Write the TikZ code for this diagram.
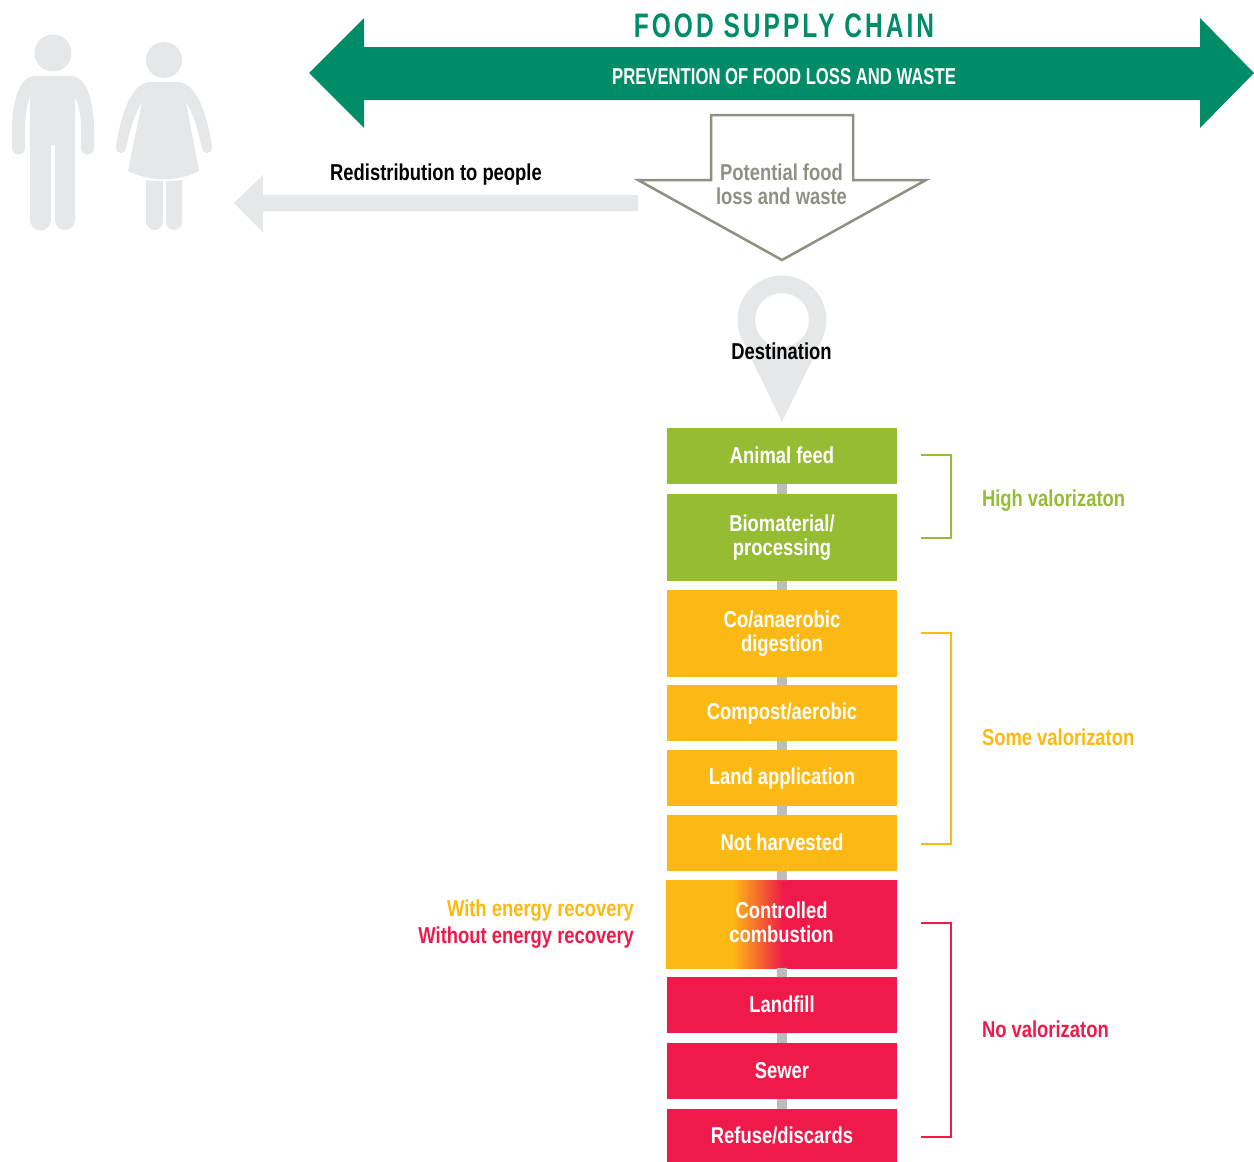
\documentclass[tikz,border=0pt]{standalone}
\usepackage{fontspec}
\setmainfont[FakeStretch=0.8]{Liberation Sans}
\newfontfamily\titlefont[FakeStretch=0.72,LetterSpace=9]{Liberation Sans}
\newfontfamily\capsfont[FakeStretch=0.725]{Liberation Sans}
\newcommand{\lblstrut}{\rule[-3pt]{0pt}{21pt}}
\definecolor{chaing}{RGB}{0,140,103}
\definecolor{highg}{RGB}{149,188,50}
\definecolor{someo}{RGB}{253,185,19}
\definecolor{nor}{RGB}{239,26,74}
\definecolor{palegr}{RGB}{230,231,232}
\definecolor{outlinegr}{RGB}{143,144,132}
\definecolor{spinegr}{RGB}{188,188,188}
\pgfdeclarehorizontalshading{combustshade}{100bp}{color(0bp)=(someo); color(39.5bp)=(someo); color(50.3bp)=(nor); color(100bp)=(nor)}
\tikzstyle{txtl}=[font=\fontsize{23}{24}\selectfont\bfseries,inner sep=0pt,outer sep=0pt,align=center,execute at begin node=\lblstrut,execute at end node=\lblstrut]
\tikzstyle{boxg}=[txtl,rectangle,fill=highg,text=white,minimum width=230pt]
\tikzstyle{boxo}=[boxg,fill=someo]
\tikzstyle{boxr}=[boxg,fill=nor]
\tikzstyle{spine}=[spinegr,line width=10pt]
\tikzstyle{bracket}=[line width=2.5pt]

\begin{document}
\begin{tikzpicture}[x=1pt,y=-1pt]
    \useasboundingbox (0,0) rectangle (1254,1162);

    % people
    \fill[palegr] (53,53) circle (18.5);
    \fill[palegr] (35,76) -- (71,76) .. controls (86,76) and (94,100) .. (94,130) -- (94,148)
        arc (0:180:6.5) -- (81,130) .. controls (81,115) and (79,105) .. (75,97) -- (75,220)
        arc (0:180:10) -- (55,145) -- (51,145) -- (51,220) arc (0:180:10.5) -- (30,97)
        .. controls (27,105) and (25,115) .. (25,130) -- (25,148) arc (0:180:6.5) -- (12,130)
        .. controls (12,100) and (20,76) .. (35,76) -- cycle;
    \fill[palegr] (164,60) circle (18);
    \fill[palegr] (150,82) -- (178,82) .. controls (196,82) and (208,115) .. (212,148)
        arc (0:180:5) .. controls (198,130) and (194,115) .. (186,102) -- (199,171)
        .. controls (178,182) and (150,182) .. (128,171) -- (142,102)
        .. controls (134,115) and (130,130) .. (126,148) arc (0:180:5)
        .. controls (120,115) and (132,82) .. (150,82) -- cycle;
    \fill[palegr] (146,180) .. controls (152,181) and (158,181) .. (163,181) -- (163,221.5)
        arc (0:180:8.5) -- cycle;
    \fill[palegr] (166,181) .. controls (171,181) and (177,181) .. (182,180) -- (182,222)
        arc (0:180:8) -- cycle;

    % top arrow
    \fill[chaing] (309,73) -- (364,18) -- (364,47) -- (1200,47) -- (1200,18) -- (1254,73)
        -- (1200,128) -- (1200,100) -- (364,100) -- (364,128) -- cycle;
    \node[inner sep=0pt,text=chaing,font=\fontsize{34}{36}\selectfont\titlefont\bfseries] (title) at (784,26) {FOOD SUPPLY CHAIN};
    \node[txtl,text=white,font=\fontsize{23}{24}\selectfont\capsfont\bfseries] (prevent) at (784,77) {PREVENTION OF FOOD LOSS AND WASTE};

    % redistribution
    \fill[palegr] (234,203) -- (263,175) -- (263,195) -- (638,195) -- (638,211) -- (263,211) -- (263,232) -- cycle;
    \node[txtl] (redist) at (436,174) {Redistribution to people};

    % potential loss
    \draw[outlinegr,line width=2.5pt] (711,180) -- (711,115) -- (853,115) -- (853,180) -- (926,180)
        -- (782,260) -- (638,180) -- cycle;
    \fill[white] (712.5,175) rectangle (851.5,182);
    \node[txtl,text=outlinegr] (potential) at (781.5,185.5) {Potential food\\loss and waste};

    % destination
    \fill[palegr,even odd rule] (782,422) -- (742,339.4) arc (154.1:385.9:44.5) -- cycle
        (782,320) circle (27);
    \node[txtl] (dest) at (781.5,352) {Destination};

    % boxes
    \node[boxg,minimum height=56pt] (feed) at (782,456) {Animal feed};
    \node[boxg,minimum height=87pt] (biomat) at (782,537.5) {Biomaterial/\\processing};
    \node[boxo,minimum height=87pt] (digest) at (782,633.5) {Co/anaerobic\\digestion};
    \node[boxo,minimum height=56pt] (compost) at (782,713) {Compost/aerobic};
    \node[boxo,minimum height=56pt] (land) at (782,778) {Land application};
    \node[boxo,minimum height=56pt] (notharv) at (782,843) {Not harvested};
    \node[boxr,minimum height=88pt,minimum width=231pt,shade,shading=combustshade] (combust) at (781.5,924) {Controlled\\combustion};
    \node[boxr,minimum height=56pt] (landfill) at (782,1005) {Landfill};
    \node[boxr,minimum height=56pt] (sewer) at (782,1071) {Sewer};
    \node[boxr,minimum height=53pt] (refuse) at (782,1135.5) {Refuse/discards};

    \foreach \from/\to in {feed/biomat,biomat/digest,digest/compost,compost/land,land/notharv,notharv/combust,combust/landfill,landfill/sewer,sewer/refuse}
    \draw[spine] (\from) -- (\to);

    % brackets
    \coordinate (hi1) at (921,455);
    \coordinate (hi2) at (921,538);
    \coordinate (so1) at (921,633);
    \coordinate (so2) at (921,844);
    \coordinate (no1) at (921,923);
    \coordinate (no2) at (921,1137);
    \draw[bracket,highg] (hi1) -- ++(30,0) |- (hi2);
    \draw[bracket,someo] (so1) -- ++(30,0) |- (so2);
    \draw[bracket,nor] (no1) -- ++(30,0) |- (no2);

    \node[txtl,text=highg,anchor=west] (high) at (982,500) {High valorizaton};
    \node[txtl,text=someo,anchor=west] (some) at (982,738) {Some valorizaton};
    \node[txtl,text=nor,anchor=west] (none) at (982,1030) {No valorizaton};

    \node[txtl,text=someo,anchor=east] (withen) at (634,910) {With energy recovery};
    \node[txtl,text=nor,anchor=east] (withouten) at (634,937) {Without energy recovery};
\end{tikzpicture}
\end{document}
